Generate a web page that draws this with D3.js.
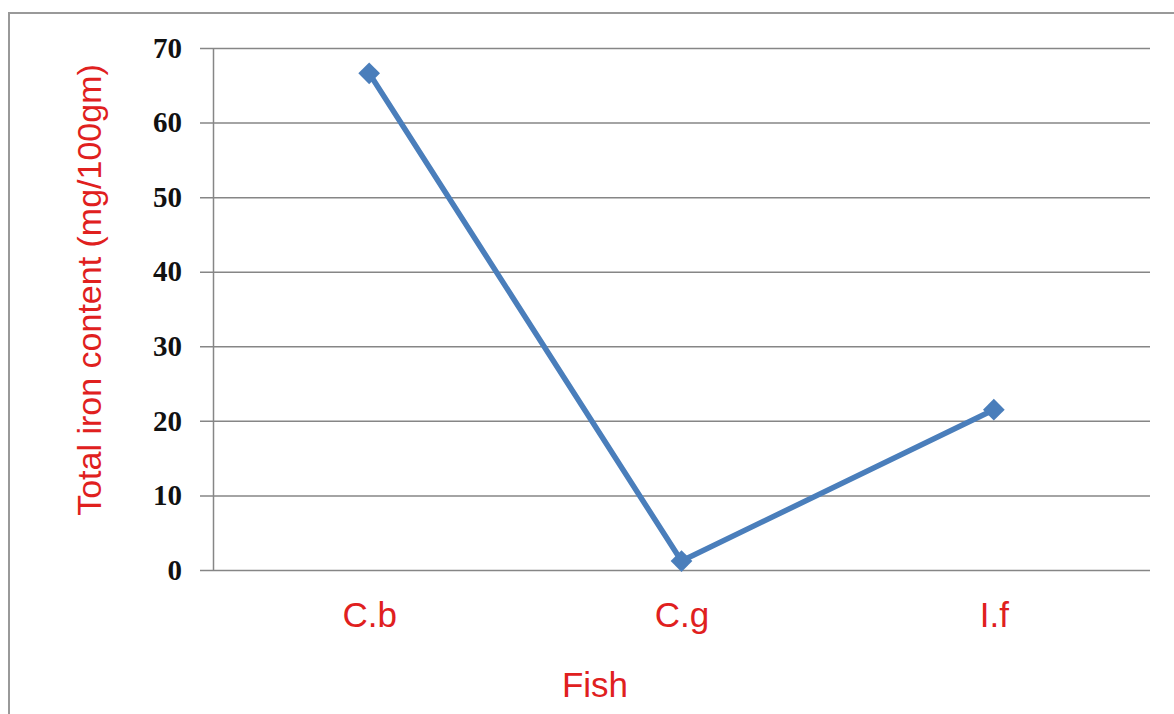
<!DOCTYPE html>
<html><head><meta charset="utf-8">
<script src="https://cdn.jsdelivr.net/npm/d3@7"></script>
<style>body{margin:0;background:#fff}</style>
</head><body>
<svg id="c" width="1174" height="714"></svg>
<script>
const categories = ["C.b", "C.g", "I.f"];
const values = [66.6, 1.2, 21.5];
const yTicks = [0, 10, 20, 30, 40, 50, 60, 70];
const xTitle = "Fish";
const yTitle = "Total iron content (mg/100gm)";

const svg = d3.select("#c");
const m = {left: 213, right: 1150, top: 48, bottom: 570};

svg.append("rect").attr("x", 9).attr("y", 13).attr("width", 1200).attr("height", 800)
  .attr("fill", "none").attr("stroke", "#999").attr("stroke-width", 2);

const x = d3.scalePoint().domain(categories).range([m.left, m.right]).padding(0.5);
const y = d3.scaleLinear().domain([0, 70]).range([m.bottom, m.top]);

const yAxis = d3.axisLeft(y).tickValues(yTicks).tickSize(-(m.right - m.left)).tickSizeOuter(0);
const gy = svg.append("g").attr("transform", `translate(${m.left},0)`).call(yAxis);
gy.select(".domain").attr("stroke", "#868686").attr("stroke-width", 1.5);
gy.selectAll(".tick line").attr("stroke", "#868686").attr("stroke-width", 1.5).attr("x1", -13);
gy.selectAll(".tick text").attr("font-family", "Liberation Serif, serif").attr("font-weight", "bold")
  .attr("font-size", 29).attr("fill", "#111").attr("x", -31);

const xAxis = d3.axisBottom(x).tickSize(0).tickPadding(32);
const gx = svg.append("g").attr("transform", `translate(0,${m.bottom})`).call(xAxis);
gx.select(".domain").remove();
gx.selectAll(".tick text").attr("font-family", "Liberation Sans, Arial, sans-serif")
  .attr("font-size", 35).attr("fill", "#e0201e");

const line = d3.line().x((d, i) => x(categories[i])).y(d => y(d));
svg.append("path").datum(values).attr("d", line).attr("fill", "none")
  .attr("stroke", "#4a7ebb").attr("stroke-width", 5.5).attr("stroke-linejoin", "round");
svg.selectAll(".mk").data(values).enter().append("path")
  .attr("d", d3.symbol().type(d3.symbolDiamond2).size(300))
  .attr("transform", (d, i) => `translate(${x(categories[i])},${y(d)})`)
  .attr("fill", "#4a7ebb");

svg.append("text").attr("x", 595).attr("y", 697)
  .attr("text-anchor", "middle").attr("font-family", "Liberation Sans, Arial, sans-serif")
  .attr("font-size", 35).attr("fill", "#e0201e").text(xTitle);
svg.append("text").attr("transform", `translate(101,290) rotate(-90)`)
  .attr("text-anchor", "middle").attr("font-family", "Liberation Sans, Arial, sans-serif")
  .attr("font-size", 34).attr("fill", "#e0201e").text(yTitle);
</script>
</body></html>
